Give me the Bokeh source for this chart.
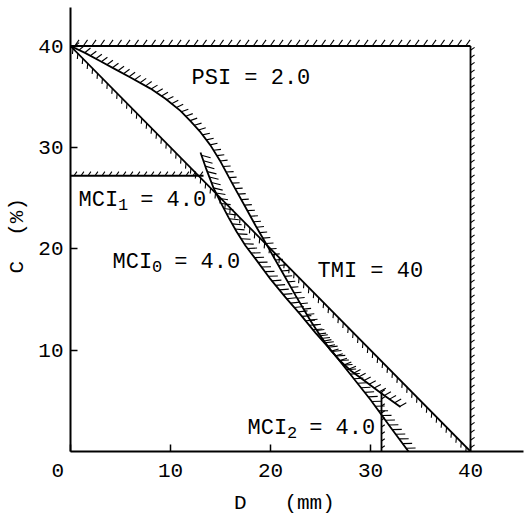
import numpy as np
from bokeh.plotting import figure
from bokeh.models import Range1d, FixedTicker
from bokeh.core.properties import value
from bokeh.embed import file_html
from bokeh.resources import INLINE

# ---------------- data ----------------
top_D = [0, 40]
top_C = [40, 40]
right_D = [40, 40]
right_C = [0, 40]
tmi_D = [0, 40]
tmi_C = [40, 0]
psi_D = [0, 1.5, 3, 4.5, 6, 8, 9.5, 11, 12, 13, 14, 15, 16.2, 17.5, 18.5, 19.5,
         21, 22.5, 24, 25, 26, 27, 28, 29.5, 31, 33]
psi_C = [40, 39.3, 38.5, 37.7, 36.9, 35.8, 34.8, 33.6, 32.6, 31.5, 30.2, 28.6, 26.4, 24.1, 22.3, 20.6,
         18.0, 15.4, 12.9, 11.4, 10.0, 8.9, 8.0, 6.9, 5.8, 4.4]
mci0_D = [13, 13.6, 14.3, 15.0, 15.8, 16.6, 17.5, 18.5, 20, 21.5, 23, 24.5, 26.3, 28, 30, 32, 33.8]
mci0_C = [29.5, 27.8, 26.0, 24.6, 23.1, 21.7, 20.3, 19.0, 17.0, 15.2, 13.5, 11.7, 9.7, 7.6, 5.1, 2.4, 0]
mci1_D = [0, 13.3]
mci1_C = [27.2, 27.2]
mci2_D = [31.1, 31.1]
mci2_C = [0, 5.9]

x_ticks = [0, 10, 20, 30, 40]
y_ticks = [10, 20, 30, 40]

# annotation texts: main part, subscript, rest
label_main = ["PSI", "MCI", "MCI", "TMI", "MCI"]
label_sub = ["", "1", "0", "", "2"]
label_rest = ["= 2.0", "= 4.0", "= 4.0", "= 40", "= 4.0"]
label_D = [12.1, 0.8, 4.2, 24.7, 17.7]
label_C = [36.8, 24.8, 18.6, 17.8, 2.3]

x_title = "D\u00a0\u00a0\u00a0(mm)\u00a0\u00a0"
y_title = "C\u00a0\u00a0(%)\u00a0"

# ---------------- figure ----------------
X_END, Y_END = 45.3, 43.8
W, H = 524, 518
BL, BR, BT, BB = 70, 1, 7, 67
SX = (W - BL - BR) / X_END   # px per unit D
SY = (H - BT - BB) / Y_END   # px per unit C

p = figure(width=W, height=H, x_range=Range1d(0, X_END), y_range=Range1d(0, Y_END),
           output_backend="svg", toolbar_location=None,
           min_border_left=BL, min_border_right=BR, min_border_top=BT, min_border_bottom=BB)
p.outline_line_color = None
p.grid.visible = False
p.background_fill_color = "white"
p.border_fill_color = "white"

MONO = "Liberation Mono"

for ax in (p.xaxis[0], p.yaxis[0]):
    ax.axis_line_width = 2
    ax.axis_line_color = "black"
    ax.major_tick_in = 7
    ax.major_tick_out = 0
    ax.major_tick_line_width = 1.5
    ax.minor_tick_line_color = None
    ax.major_label_text_font = MONO
    ax.major_label_text_font_size = "21px"
    ax.major_label_text_color = "black"
    ax.axis_label_text_font = MONO
    ax.axis_label_text_font_size = "21px"
    ax.axis_label_text_font_style = "normal"
    ax.axis_label_text_color = "black"
p.xaxis.ticker = FixedTicker(ticks=x_ticks)
p.yaxis.ticker = FixedTicker(ticks=y_ticks)
p.xaxis.major_label_overrides = {0: "0\u00a0\u00a0"}
p.xaxis.major_label_standoff = 8
p.yaxis.major_label_standoff = 7
p.xaxis.axis_label = x_title
p.yaxis.axis_label = y_title
p.xaxis.axis_label_standoff = 6
p.yaxis.axis_label_standoff = 6


def hatch(D, C, side, spacing, length, lean):
    x = np.asarray(D, float) * SX
    y = np.asarray(C, float) * SY
    dxs, dys = np.diff(x), np.diff(y)
    seg = np.hypot(dxs, dys)
    s = np.concatenate([[0], np.cumsum(seg)])
    pos = np.arange(spacing / 2, s[-1], spacing)
    px = np.interp(pos, s, x)
    py = np.interp(pos, s, y)
    idx = np.clip(np.searchsorted(s, pos) - 1, 0, len(seg) - 1)
    tx, ty = dxs[idx] / seg[idx], dys[idx] / seg[idx]
    nx, ny = -ty * side, tx * side
    a = np.radians(lean)
    ex = length * (np.cos(a) * nx + np.sin(a) * tx)
    ey = length * (np.cos(a) * ny + np.sin(a) * ty)
    return px / SX, py / SY, (px + ex) / SX, (py + ey) / SY


curves = [
    (top_D, top_C, +1, 8.5, 7.5, 35),
    (right_D, right_C, -1, 7.5, 5, 35),
    (mci1_D, mci1_C, +1, 7.0, 5, 35),
    (tmi_D, tmi_C, -1, 7.0, 5.5, 40),
    (psi_D, psi_C, +1, 6.3, 7.5, 25),
    (mci0_D, mci0_C, +1, 5.8, 9.5, 35),
    (mci2_D, mci2_C, -1, 7.0, 4, 35),
]

for D, C, side, sp, ln, lean in curves:
    p.line(D, C, line_color="black", line_width=1.8)
    x0, y0, x1, y1 = hatch(D, C, side, sp, ln, lean)
    p.segment(x0=x0, y0=y0, x1=x1, y1=y1, line_color="black", line_width=1.1)

FS = 22
CW = 0.6 * FS          # monospace cell width, px
SUB_FS = 17
SUB_W = 0.6 * SUB_FS
sub_off = [len(m) * CW for m in label_main]
rest_off = [len(m) * CW + (SUB_W + 0.9 * CW if s else CW) for m, s in zip(label_main, label_sub)]

p.text(x=label_D, y=label_C, text=label_main, text_font=value(MONO), text_font_size=f"{FS}px",
       text_color="black", text_align="left", text_baseline="middle")
p.text(x=label_D, y=label_C, text=label_sub, x_offset=sub_off, y_offset=4,
       text_font=value(MONO), text_font_size=f"{SUB_FS}px",
       text_color="black", text_align="left", text_baseline="middle")
p.text(x=label_D, y=label_C, text=label_rest, x_offset=rest_off,
       text_font=value(MONO), text_font_size=f"{FS}px",
       text_color="black", text_align="left", text_baseline="middle")

open("out.html", "w").write(file_html(p, INLINE))
